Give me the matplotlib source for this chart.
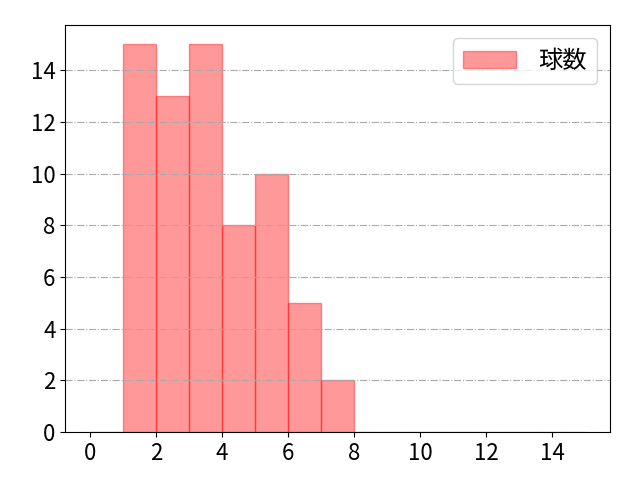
import numpy as np
import matplotlib
matplotlib.use("Agg")
import matplotlib.pyplot as plt

plt.rcParams['font.family'] = ['Noto Sans CJK JP', 'DejaVu Sans']
plt.rcParams['font.size'] = 16

# pitches per at-bat histogram
bin_edges = list(range(0, 16))
counts = [0, 15, 13, 15, 8, 10, 5, 2, 0, 0, 0, 0, 0, 0, 0]
label = "球数"

fig, ax = plt.subplots(figsize=(6.4, 4.8), dpi=100)
ax.hist(bin_edges[:-1], bins=bin_edges, weights=counts,
        color='red', edgecolor='red', alpha=0.4, label=label)
ax.grid(axis='y', linestyle='-.', color='darkgray')
ax.set_xticks(range(0, 16, 2))
ax.legend(loc='upper right', fontsize=17.5, handlelength=2.2,
          handletextpad=0.9, borderaxespad=0.55)
fig.subplots_adjust(left=0.102, right=0.953, bottom=0.1, top=0.948)
fig.savefig("out.png")
